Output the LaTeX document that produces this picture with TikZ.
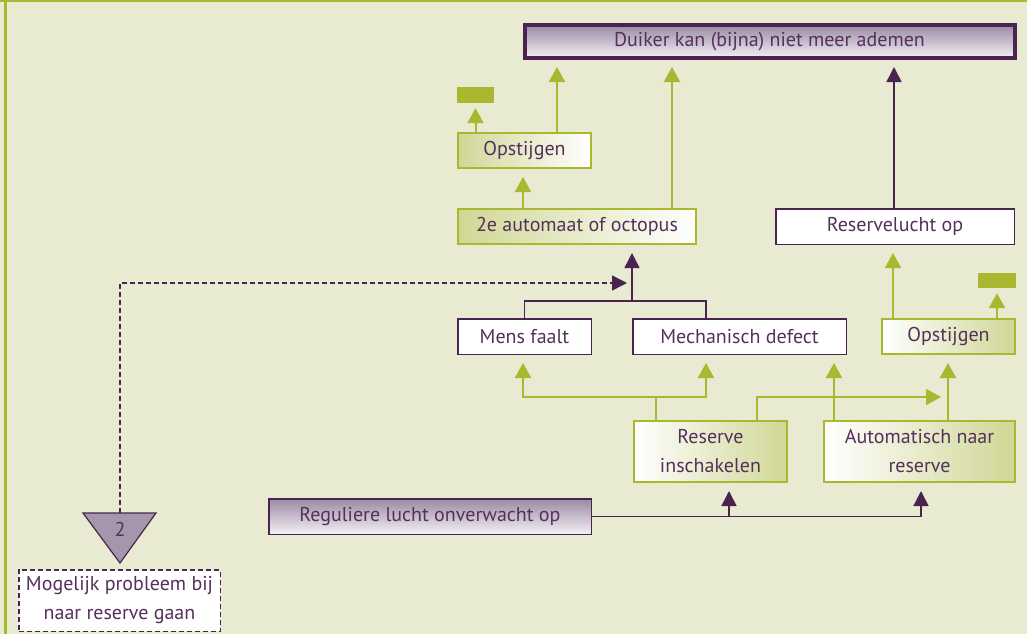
\documentclass[tikz,border=0pt]{standalone}
\usepackage{fontspec}
\setmainfont{PT Sans}
\usetikzlibrary{arrows.meta,calc}
\definecolor{bg}{HTML}{E8EBD1}
\definecolor{grn}{HTML}{A9B82F}
\definecolor{lgrn}{HTML}{D0D795}
\definecolor{pur}{HTML}{4B2350}
\definecolor{txt}{HTML}{55305C}
\definecolor{ptop}{HTML}{9A89A3}
\definecolor{pbot}{HTML}{F4F1F5}
\definecolor{trif}{HTML}{A596AC}
\tikzset{
  box/.style={draw, rectangle, inner sep=0pt, text=txt, align=center,
    font=\fontsize{20}{29}\selectfont},
  gboxL/.style={box, draw=grn, line width=2pt, left color=lgrn, right color=white},
  gboxR/.style={box, draw=grn, line width=2pt, left color=white, right color=lgrn},
  pbox/.style={box, draw=pur, line width=1.5pt, fill=white},
  pgrad/.style={box, draw=pur, line width=1.5pt, top color=ptop, bottom color=pbot},
  gline/.style={draw=grn, line width=2pt},
  pline/.style={draw=pur, line width=1.5pt},
  dashline/.style={dash pattern=on 5pt off 3pt},
  garr/.style={gline, -{Triangle[length=15pt,width=16pt]}, shorten >=8pt},
  parr/.style={pline, -{Triangle[length=15pt,width=15pt]}, shorten >=8pt},
  grect/.style={fill=grn, inner sep=0pt, rectangle},
}
\begin{document}
\begin{tikzpicture}[x=1pt,y=-1pt]
\fill[bg] (0,0) rectangle (1027,634);
\useasboundingbox (0,0) rectangle (1027,634);
\draw[grn, line width=3pt] (0,1) -- (1027,1);
\draw[grn, line width=3pt] (5,0) -- (5,634);

% nodes
\node[pgrad, line width=4pt, minimum width=490pt, minimum height=33pt] (top) at (769.5,41.5) {Duiker kan (bijna) niet meer ademen};
\node[grect, minimum width=37pt, minimum height=16pt] (g1) at (475.5,95) {};
\node[gboxL, minimum width=133pt, minimum height=35pt] (ops1) at (524.5,150.5) {Opstijgen};
\node[gboxL, minimum width=238pt, minimum height=35pt] (auto2) at (577,226.5) {2e automaat of octopus};
\node[pbox, minimum width=238.5pt, minimum height=35.5pt] (res) at (895,226.5) {Reservelucht op};
\node[pbox, minimum width=133.5pt, minimum height=35.5pt] (mens) at (524.5,336.5) {Mens faalt};
\node[pbox, minimum width=213.5pt, minimum height=35.5pt] (mech) at (739.5,336.5) {Mechanisch defect};
\node[gboxR, minimum width=133pt, minimum height=35pt] (ops2) at (948.5,336.5) {Opstijgen};
\node[grect, minimum width=38pt, minimum height=15pt] (g2) at (997,280.5) {};
\node[gboxR, minimum width=153pt, minimum height=61pt] (rin) at (710.5,451.5) {Reserve\\inschakelen};
\node[gboxR, minimum width=191pt, minimum height=61pt] (aut) at (919.5,451.5) {Automatisch naar\\reserve};
\node[pgrad, minimum width=322.5pt, minimum height=35.5pt] (reg) at (430,516.5) {Reguliere lucht onverwacht op};
\draw[pur, line width=1.2pt, fill=trif] (83,513) -- (156,513) -- (120,563) -- cycle;
\node[text=txt, font=\fontsize{20}{22}\selectfont, inner sep=0pt] (two) at (120,529) {2};
\coordinate (tritop) at (120,513);
\node[pbox, dashline, minimum width=201.5pt, minimum height=61.5pt] (dbox) at (119.5,600.5) {Mogelijk probleem bij\\naar reserve gaan};

% coordinates
\coordinate (a1) at ([xshift=32.5pt]ops1.north);
\coordinate (a2) at ([xshift=-54pt]auto2.north);
\coordinate (a3) at ([xshift=95pt]auto2.north);
\coordinate (a5) at ([xshift=-1pt]res.north);
\coordinate (a6) at ([xshift=-55.5pt]ops2.north);
\coordinate (m1) at ([xshift=-33.5pt]mech.north);
\coordinate (m1b) at ([xshift=-33.5pt]mech.south);
\coordinate (mensb) at ([xshift=-1.5pt]mens.south);
\coordinate (jn) at (632,301);
\coordinate (dj) at (632,283);
\coordinate (r1) at ([xshift=-54.5pt]rin.north);
\coordinate (jr) at ($(r1)+(0,-23)$);
\coordinate (r2) at ([xshift=46.5pt]rin.north);
\coordinate (a4) at ([xshift=28.5pt]aut.north);
\coordinate (a7) at ([xshift=-85.5pt]aut.north);
\coordinate (b1) at ([xshift=18.5pt]rin.south);
\coordinate (b2) at ([xshift=1.5pt]aut.south);

% connectors
\draw[garr, shorten >=5pt] (g1.south |- ops1.north) -- (g1.south);
\draw[garr, shorten >=7pt] (a1) -- (a1 |- top.south);
\draw[garr] (a2) -- (a2 |- ops1.south);
\draw[garr, shorten >=7pt] (a3) -- (a3 |- top.south);
\draw[parr, shorten >=7pt] (a5) -- (a5 |- top.south);
\draw[garr] (a6) -- (a6 |- res.south);
\draw[garr, shorten >=5pt] (g2.south |- ops2.north) -- (g2.south);
\draw[pline] (mens.north) |- (jn) -| (m1);
\draw[parr] (jn) -- (jn |- auto2.south);
\draw[pline, dashline, -{Triangle[length=15pt,width=15pt]}, shorten >=5pt] (tritop) |- (dj);
\draw[gline] (r1) -- (jr);
\draw[garr] (jr) -| (mensb);
\draw[garr] (jr) -| (m1b);
\draw[garr, shorten >=7pt] (r2) |- ($(a4)+(0,-23)$);
\draw[garr] (a7) -- (a7 |- mech.south);
\draw[garr] (a4) -- (a4 |- ops2.south);
\draw[parr] (reg.east) -| (b2);
\draw[parr] (b1 |- reg.east) -- (b1);
\end{tikzpicture}
\end{document}
